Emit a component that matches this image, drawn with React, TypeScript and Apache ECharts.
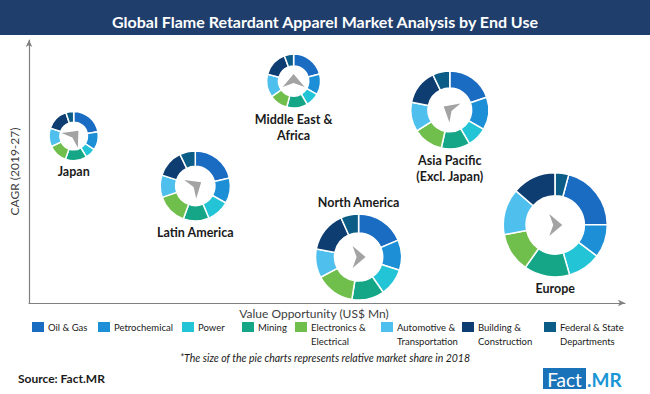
import { useEffect, useRef } from "react";
import * as echarts from "echarts";

// ---------- data ----------
const regions = [
  "Japan",
  "Latin America",
  "Middle East &\nAfrica",
  "North America",
  "Asia Pacific\n(Excl. Japan)",
  "Europe",
];
const valueOpportunity = [7.5, 27.9, 44.4, 55.3, 70.6, 88.3]; // x (relative)
const cagr = [63.5, 44.5, 84.4, 17.5, 73.4, 29.7]; // y (relative)
const marketShare2018 = [7.0, 14.2, 8.4, 21.4, 17.6, 31.3]; // donut size
const trendDirection = [48, 33, 90, 0, 150, 0]; // arrow direction, degrees

const endUses = [
  "Oil & Gas",
  "Petrochemical",
  "Power",
  "Mining",
  "Electronics &\nElectrical",
  "Automotive &\nTransportation",
  "Building &\nConstruction",
  "Federal & State\nDepartments",
];
const oilGas = [22.2, 21.4, 20.8, 18.6, 19.7, 20.8];
const petrochemical = [12.2, 11.7, 12.5, 11.4, 13.6, 10.3];
const power = [6.9, 10.6, 8.3, 10.3, 8.3, 10.3];
const mining = [14.2, 11.9, 12.5, 12.2, 11.9, 14.2];
const electronics = [12.5, 14.2, 11.1, 14.7, 12.5, 12.2];
const automotive = [12.2, 10.3, 13.9, 10.8, 12.2, 14.4];
const building = [14.7, 12.8, 15.3, 15.3, 14.7, 13.6];
const federal = [5.1, 7.2, 5.6, 6.7, 7.1, 4.2];
const shareSeries = [oilGas, petrochemical, power, mining, electronics, automotive, building, federal];

// ---------- style / layout ----------
const colors = ["#1a6cc2", "#1c8fd6", "#22c4d6", "#15a688", "#70bf4c", "#4fc0ee", "#0e3d71", "#0b5c86"];
const startOffsetDeg = [0, 0, 0, 0, 0, 15];
const labelBelow = [true, true, true, false, true, true];
const legendX = [32, 98, 182, 242, 295, 381, 462, 544];
const FONT = "Lato, 'Open Sans', sans-serif";
const R_SCALE = 9.3;
const INNER = 0.56;

export default function App() {
  const ref = useRef<HTMLDivElement>(null);
  useEffect(() => {
    if (!ref.current) return;
    const chart = echarts.init(ref.current, undefined, { renderer: "svg" });

    const renderItem = (params: any, api: any) => {
      const i = params.dataIndex;
      const c = api.coord([api.value(0), api.value(1)]);
      const r = R_SCALE * Math.sqrt(api.value(2));
      const r0 = r * INNER;
      const shares = shareSeries.map((s) => s[i]);
      const total = shares.reduce((a, b) => a + b, 0);
      let a = startOffsetDeg[i];
      const children: any[] = [];
      shares.forEach((v, k) => {
        const span = (v / total) * 360;
        children.push({
          type: "sector",
          shape: {
            cx: c[0],
            cy: c[1],
            r,
            r0,
            startAngle: ((a - 90) * Math.PI) / 180,
            endAngle: ((a + span - 90) * Math.PI) / 180,
            clockwise: true,
          },
          style: { fill: colors[k], stroke: "#ffffff", lineWidth: 1.5 },
        });
        a += span;
      });
      const ang = (trendDirection[i] * Math.PI) / 180;
      const dir = [Math.cos(ang), -Math.sin(ang)];
      const perp = [Math.sin(ang), Math.cos(ang)];
      const local = [
        [7, 0],
        [-6, -11],
        [-2, 0],
        [-6, 11],
      ];
      const pts = local.map(([u, w]) => [
        c[0] + u * dir[0] + w * perp[0],
        c[1] + u * dir[1] + w * perp[1],
      ]);
      children.push({
        type: "polygon",
        shape: { points: pts },
        style: { fill: "#a3a3a3" },
      });
      const below = labelBelow[i];
      children.push({
        type: "text",
        style: {
          text: regions[i],
          x: c[0],
          y: below ? c[1] + r + 3 : c[1] - r - 3,
          align: "center",
          verticalAlign: below ? "top" : "bottom",
          font: `bold 12.5px ${FONT}`,
          lineHeight: 16.5,
          fill: "#1a1a1a",
        },
      });
      return { type: "group", children };
    };

    const legendGraphics = endUses.map((n, k) => ({
      type: "group",
      x: legendX[k],
      y: 322,
      children: [
        { type: "rect", shape: { x: 0, y: 0, width: 12, height: 10 }, style: { fill: colors[k] } },
        {
          type: "text",
          style: {
            text: n,
            x: 16,
            y: -2,
            verticalAlign: "top",
            font: `9.5px ${FONT}`,
            lineHeight: 14,
            fill: "#1a1a1a",
          },
        },
      ],
    }));

    const option: any = {
      animation: false,
      backgroundColor: "#ffffff",
      title: {
        text: "Global Flame Retardant Apparel Market Analysis by End Use",
        left: "center",
        top: 8,
        textStyle: { color: "#ffffff", fontSize: 16, fontWeight: "bold", fontFamily: FONT },
      },
      graphic: [
        { type: "rect", z: -1, shape: { x: 0, y: 0, width: 650, height: 35 }, style: { fill: "#1f3e6c" } },
        ...legendGraphics,
        {
          type: "text",
          style: {
            text: "*The size of the pie charts represents relative market share in 2018",
            x: 325,
            y: 358,
            align: "center",
            verticalAlign: "middle",
            font: `italic 10.5px ${FONT}`,
            fill: "#1a1a1a",
          },
        },
        {
          type: "text",
          style: {
            text: "Source: Fact.MR",
            x: 18,
            y: 378,
            verticalAlign: "middle",
            font: `bold 12px ${FONT}`,
            fill: "#1a1a1a",
          },
        },
        { type: "rect", shape: { x: 543, y: 368, width: 43, height: 21 }, style: { fill: "#1a73b8" } },
        {
          type: "text",
          style: { text: "Fact", x: 564.5, y: 379, align: "center", verticalAlign: "middle", font: `19px ${FONT}`, fill: "#ffffff" },
        },
        {
          type: "text",
          style: { text: ".MR", x: 587, y: 379, align: "left", verticalAlign: "middle", font: `bold 19px ${FONT}`, fill: "#1b95d4" },
        },
      ],
      grid: { left: 26, right: 25, top: 40, bottom: 91, containLabel: false },
      xAxis: {
        type: "value",
        min: 0,
        max: 100,
        name: "Value Opportunity (US$ Mn)",
        nameLocation: "middle",
        nameGap: 4,
        nameTextStyle: { fontSize: 12, fontFamily: FONT, color: "#404040", padding: [0, 26, 0, 0], verticalAlign: "top" },
        axisLine: { show: true, symbol: ["none", "arrow"], symbolSize: [5, 7], lineStyle: { color: "#808080", width: 1.2 } },
        axisTick: { show: false },
        axisLabel: { show: false },
        splitLine: { show: false },
      },
      yAxis: {
        type: "value",
        min: 0,
        max: 100,
        name: "CAGR (2019-27)",
        nameLocation: "middle",
        nameGap: 9,
        nameTextStyle: { fontSize: 12, fontFamily: FONT, color: "#404040" },
        axisLine: { show: true, symbol: ["none", "arrow"], symbolSize: [5, 7], lineStyle: { color: "#808080", width: 1.2 } },
        axisTick: { show: false },
        axisLabel: { show: false },
        splitLine: { show: false },
      },
      series: [
        {
          type: "custom",
          name: "Regions",
          coordinateSystem: "cartesian2d",
          clip: false,
          renderItem,
          data: regions.map((_, i) => [valueOpportunity[i], cagr[i], marketShare2018[i]]),
        },
      ],
    };
    chart.setOption(option);
    return () => chart.dispose();
  }, []);
  return (
    <div
      ref={ref}
      style={{ position: "fixed", left: 0, top: 0, width: 650, height: 394 }}
    />
  );
}
